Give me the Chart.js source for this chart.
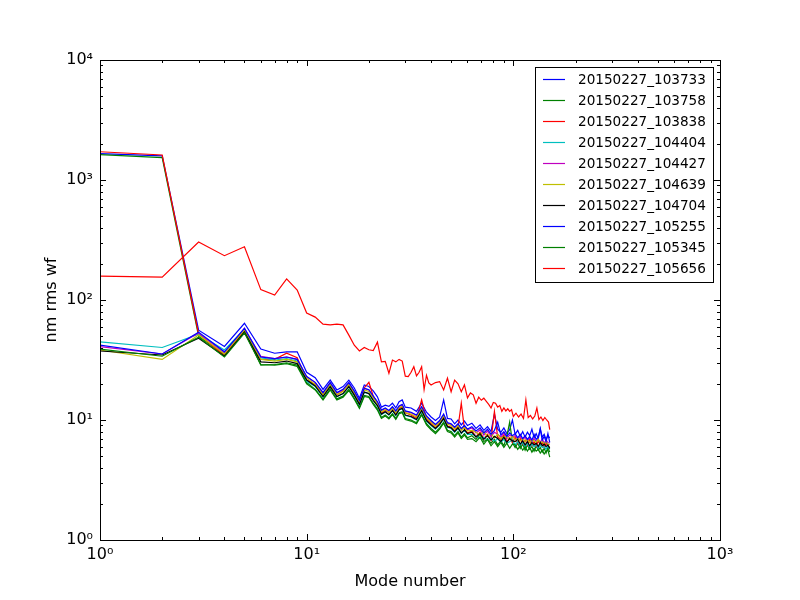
<!DOCTYPE html>
<html>
<head>
<meta charset="utf-8">
<script src="https://cdn.jsdelivr.net/npm/chart.js@4/dist/chart.umd.min.js"></script>
<style>
  html, body { margin: 0; padding: 0; background: #fff; }
  canvas { display: block; }
</style>
</head>
<body>
<canvas id="chart" width="800" height="600"></canvas>
<script>
// mode numbers sampled for the nine clustered runs
const modes = [1,2,3,4,5,6,7,8,9,10,11,12,13,14,15,16,17,18,19,20,21,22,23,24,25,26,27,28,29,30,
  32,34,36,38,40,42,44,46,48,50,52,54,56,58,60,
  63,66,69,72,75,78,81,84,87,90,93,96,99,102,105,108,111,114,117,120,123,126,129,132,135,138,141,144,147,150];

// mode numbers for the last run (sampled finer)
const modesLast = [1,2,3,4,5,6,7,8,9,10,11,12,13,14,15,16,17,18,19,20,21,22,23,24,25,26,27,28,29,30,
  31,32,33,34,35,36,37,38,39,40,
  42,44,46,48,50,52,54,56,58,60,62,64,66,68,70,72,74,76,78,80,82,84,86,88,90,92,94,96,98,100,
  103,106,109,112,115,118,121,124,127,130,133,136,139,142,145,148,150];

const labels = ['20150227_103733','20150227_103758','20150227_103838','20150227_104404','20150227_104427',
  '20150227_104639','20150227_104704','20150227_105255','20150227_105345','20150227_105656'];
const colors = ['#0000ff','#008000','#ff0000','#00bfbf','#bf00bf','#bfbf00','#000000','#0000ff','#008000','#ff0000'];

const r103733 = [1660,1590,56,41,64,39,36,37,37,25,
  22.5,18,21.5,17.8,19,21.5,18.5,15.2,19.6,19,
  17.5,15.6,12.8,13.3,13,13.8,12.6,14.2,14.7,12.8,
  12.6,11.8,13.8,11.6,10.6,9.9,10.6,14.7,10.3,10.2,9.3,10.0,9.1,9.8,9.0,
  9.4,8.5,9.1,8.2,8.8,8.0,11.2,8.4,7.9,8.6,7.7,8.3,10.0,7.6,8.2,7.3,8.0,7.2,7.9,7.4,8.4,7.1,7.7,7.0,8.5,7.2,7.6,6.9,7.4,7.1];
const r103758 = [1630,1535,50,35,55,28.7,29,30,28.7,20.5,
  18,15,18.2,15,15.8,18,15.2,12.8,16,15.7,
  13.8,12.4,10.5,11,10.4,11.3,10.3,11.5,11.7,10.3,
  10.0,9.5,11.2,9.3,8.5,7.9,8.6,9.6,8.2,8.0,7.4,8.0,7.2,7.7,7.1,
  7.4,6.9,7.6,6.6,7.0,6.4,6.9,6.2,6.7,6.1,7.3,9.6,6.5,5.9,6.4,5.8,6.3,5.6,6.2,5.7,6.0,5.5,6.1,5.6,5.9,5.4,5.8,5.3,5.9,5.4];
const r103838 = [1720,1615,52,34.2,56,32,32,36,33,21.5,
  19.8,16.2,19.6,16.2,17.4,19.8,16.4,13.6,18.5,20.6,
  15.8,13.8,11.3,12,11.6,12.5,11,12.4,12.9,11.5,
  11.0,10.3,14.7,10.2,9.3,8.6,9.3,10.5,8.9,8.7,8.1,8.7,13.8,8.4,7.8,
  8.1,7.3,7.9,7.0,7.6,6.8,11.8,7.2,6.9,7.5,6.6,7.1,6.5,7.2,6.4,7.0,6.3,6.8,6.2,6.9,6.1,6.6,6.0,6.7,6.2,6.5,5.9,6.4,6.1,5.9];
const r104404 = [44.7,40.2,52,38.3,57,33,31.5,32.5,31,21,
  19,15.6,19.2,15.6,16.6,19,16,13.4,17,16.6,
  14.6,13.1,11.1,11.6,11,11.9,10.9,12.1,12.4,10.9,
  10.6,10.0,11.9,9.8,9.0,8.4,9.1,10.2,8.7,8.5,7.9,8.5,7.7,8.2,7.6,
  7.6,7.4,7.0,7.2,6.8,7.1,6.6,7.0,6.5,6.9,6.4,6.6,6.8,6.2,6.6,6.1,6.5,6.0,6.4,5.9,6.3,6.0,6.2,5.8,6.2,5.9,6.0,5.7,6.1,5.7];
const r104427 = [40.8,35.5,53,36,58,34,32.5,33.5,32,23,
  20.5,16.8,20.4,16.8,17.9,20.4,17.3,14.4,18.3,17.8,
  15.7,14.1,12,12.5,11.9,12.8,11.8,13,13.3,11.8,
  11.5,10.9,12.8,10.7,9.8,9.1,9.8,11.0,9.4,9.2,8.6,9.2,8.4,8.9,8.3,
  8.6,7.8,8.3,7.5,8.1,7.3,7.9,7.6,7.2,7.8,7.0,7.5,7.2,7.4,6.9,7.3,6.8,7.2,6.7,7.1,6.6,7.0,6.6,6.9,6.5,7.0,6.4,6.8,6.5,6.4];
const r104639 = [38.3,32,51,35.5,56.5,32,31,32,30.5,22.3,
  19.8,16.2,19.8,16.3,17.3,19.8,16.8,14,17.8,17.3,
  15.2,13.7,11.7,12.2,11.6,12.5,11.5,12.7,13,11.5,
  11.2,10.6,12.5,10.4,9.6,8.9,9.6,10.8,9.2,9.0,8.4,9.0,8.2,8.7,8.1,
  8.2,7.9,7.5,8.0,7.3,7.7,7.1,7.6,7.0,7.3,7.2,6.9,7.4,6.8,7.1,6.7,7.0,6.6,6.9,6.5,6.8,6.7,6.5,6.9,6.4,6.6,6.3,6.6,6.3,6.2];
const r104704 = [37.6,34.8,48,34,54,30.5,30,31,29.5,21.5,
  19.2,15.7,19,15.7,16.6,19,16.1,13.5,17.1,16.6,
  14.6,13.2,11.2,11.7,11.1,12,11,12.2,12.5,11,
  10.7,10.1,12.0,9.9,9.1,8.5,9.2,10.3,8.8,8.6,8.0,8.6,7.8,8.3,7.7,
  7.9,7.2,7.7,6.9,7.4,6.8,7.3,7.0,6.6,7.2,6.5,7.0,6.7,6.6,6.9,6.3,6.7,6.2,6.6,6.1,6.5,6.2,6.4,6.0,6.5,6.1,6.3,6.0,6.2,5.8];
const r105255 = [42,35.5,54,37,58,33.5,32.5,33.5,32,23,
  20.6,16.9,20.5,16.9,18,20.5,17.4,14.5,18.4,17.9,
  15.8,14.2,12.1,12.6,12,12.9,11.9,13.1,13.5,11.9,
  11.6,11.0,12.9,10.8,9.9,9.2,9.9,11.2,9.5,9.3,8.7,9.3,8.5,9.0,8.4,
  8.8,8.1,8.6,7.8,8.4,7.6,8.2,9.6,7.5,8.0,7.3,7.8,7.4,7.7,7.1,7.6,7.0,7.4,6.9,7.3,6.8,7.6,6.9,7.2,8.4,6.8,7.3,6.6,7.7,6.5];
const r105345 = [39,34,49,33.5,53,29,28.7,29.5,28,20,
  17.8,14.7,17.8,14.7,15.5,17.6,14.9,12.5,15.7,15.4,
  13.5,12.1,10.3,10.8,10.2,11.1,10.1,11.3,11.5,10.1,
  9.8,9.3,11.0,9.1,8.3,7.7,8.4,9.4,8.0,7.8,7.2,7.8,7.0,7.5,6.9,
  7.0,6.6,7.2,6.3,6.9,6.1,6.6,6.0,6.5,5.9,6.4,5.8,6.3,6.2,5.7,6.1,5.6,6.0,5.5,5.9,5.4,5.8,5.5,5.7,5.3,5.6,5.2,5.5,5.6,4.9];
const r105656 = [158,155,304,234,278,122,110,150,121,78,
  72,63,62,63,62,51,42,37.6,40.2,38.5,
  37.9,44.5,30.5,30.8,24.5,31.6,30.5,32,31,23.2,
  23,25,27.8,23.3,25,27.8,17.9,23.6,20.4,19.6,
  20.5,20.9,17.8,22.3,17.2,21.5,20,17.2,19.6,15.3,
  16.8,16.2,13.8,15.5,14.6,15.2,14.3,13.5,12.6,14,
  13.8,12.8,13.2,11.8,12.6,11.9,12.4,11.8,12.2,10.7,
  11.4,10.6,11.2,10.3,14.7,10.5,10.9,10.2,10.8,12.6,10.1,10.6,9.9,10.5,10.0,9.6,8.3];

const series = [r103733, r103758, r103838, r104404, r104427, r104639, r104704, r105255, r105345, r105656];

const FONT = '"DejaVu Sans", sans-serif';
const SUP = { '0': '\u2070', '1': '\u00b9', '2': '\u00b2', '3': '\u00b3', '4': '\u2074' };

const datasets = series.map((vals, i) => {
  const xs = i === series.length - 1 ? modesLast : modes;
  return {
    label: labels[i],
    data: vals.map((v, j) => ({ x: xs[j], y: v })),
    borderColor: colors[i],
    backgroundColor: colors[i],
    borderWidth: 1.2,
    pointRadius: 0,
    fill: false,
    tension: 0,
    order: series.length - i
  };
});

function decadeLabel(v) {
  const e = Math.round(Math.log10(v));
  return '10' + String(e).split('').map(c => SUP[c]).join('');
}

// frame, inward major/minor ticks on all four sides, and the legend box
const decorations = {
  id: 'decorations',
  afterDraw(chart) {
    const { ctx, chartArea: a, scales: { x, y } } = chart;
    ctx.save();
    ctx.strokeStyle = '#000';
    ctx.lineWidth = 1;
    ctx.beginPath();
    for (let d = 0; d <= 2; d++) {
      for (let k = 1; k <= 9; k++) {
        const px = Math.round(x.getPixelForValue(k * Math.pow(10, d))) + 0.5;
        const len = k === 1 ? 6 : 3;
        ctx.moveTo(px, a.bottom); ctx.lineTo(px, a.bottom - len);
        ctx.moveTo(px, a.top); ctx.lineTo(px, a.top + len);
      }
    }
    for (let d = 0; d <= 3; d++) {
      for (let k = 1; k <= 9; k++) {
        const py = Math.round(y.getPixelForValue(k * Math.pow(10, d))) + 0.5;
        const len = k === 1 ? 6 : 3;
        ctx.moveTo(a.left, py); ctx.lineTo(a.left + len, py);
        ctx.moveTo(a.right, py); ctx.lineTo(a.right - len, py);
      }
    }
    ctx.stroke();
    ctx.strokeRect(Math.round(a.left) + 0.5, Math.round(a.top) + 0.5,
      Math.round(a.right - a.left), Math.round(a.bottom - a.top));

    // legend
    const lx = 535.5, ly = 67.5, lw = 178, lh = 215;
    ctx.fillStyle = '#fff';
    ctx.fillRect(lx, ly, lw, lh);
    ctx.strokeRect(lx, ly, lw, lh);
    ctx.font = '13.6px ' + FONT;
    ctx.textBaseline = 'middle';
    ctx.textAlign = 'left';
    chart.data.datasets.forEach((ds, i) => {
      const cy = Math.round(ly + 11 + i * 21.1) + 0.5;
      ctx.strokeStyle = ds.borderColor;
      ctx.lineWidth = 1.2;
      ctx.beginPath();
      ctx.moveTo(543, cy); ctx.lineTo(565, cy);
      ctx.stroke();
      ctx.fillStyle = '#000';
      ctx.fillText(ds.label, 578, cy + 1);
    });
    ctx.restore();
  }
};

new Chart(document.getElementById('chart'), {
  type: 'line',
  data: { datasets },
  options: {
    responsive: false,
    animation: false,
    devicePixelRatio: 1,
    layout: { padding: { left: 0, top: 60, right: 80, bottom: 0 } },
    plugins: { legend: { display: false }, tooltip: { enabled: false } },
    scales: {
      x: {
        type: 'logarithmic',
        min: 1, max: 1000,
        afterBuildTicks: s => { s.ticks = [1, 10, 100, 1000].map(v => ({ value: v })); },
        afterFit: s => { s.height = 60; },
        grid: { display: false, drawTicks: false },
        border: { display: false },
        ticks: {
          padding: 5, color: '#000', maxRotation: 0, autoSkip: false,
          font: { family: FONT, size: 16 },
          callback: v => decadeLabel(v)
        },
        title: {
          display: true, text: 'Mode number', color: '#000',
          font: { family: FONT, size: 16 },
          padding: { top: 0, bottom: 9 }
        }
      },
      y: {
        type: 'logarithmic',
        min: 1, max: 10000,
        afterBuildTicks: s => { s.ticks = [1, 10, 100, 1000, 10000].map(v => ({ value: v })); },
        afterFit: s => { s.width = 100; },
        grid: { display: false, drawTicks: false },
        border: { display: false },
        ticks: {
          padding: 7, color: '#000', autoSkip: false,
          font: { family: FONT, size: 16 },
          callback: v => decadeLabel(v)
        },
        title: {
          display: true, text: 'nm rms wf', color: '#000',
          font: { family: FONT, size: 16 },
          padding: { top: 42, bottom: 0 }
        }
      }
    }
  },
  plugins: [decorations]
});
</script>
</body>
</html>
